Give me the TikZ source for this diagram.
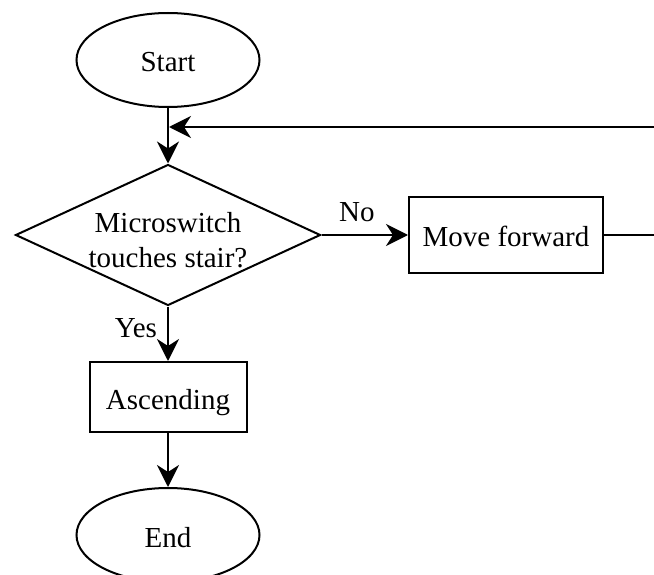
\documentclass[tikz,border=0pt]{standalone}
\usepackage{fontspec}
\setmainfont{Liberation Serif}
\usetikzlibrary{shapes.geometric,arrows.meta}

\begin{document}
\begin{tikzpicture}[
		x=1pt, y=-1pt,
		every node/.style={font=\fontsize{29}{35}\selectfont},
		terminal/.style={draw, ellipse, line width=2pt, minimum width=183pt, minimum height=94pt, inner sep=0pt, text height=26pt, text depth=2pt},
		decision/.style={draw, diamond, aspect=2.16, line width=2pt, minimum width=305pt, minimum height=141pt, inner sep=-10pt, align=center},
		process/.style={draw, rectangle, line width=2pt, inner sep=0pt, text height=26pt, text depth=2pt},
		flow/.style={line width=2pt, -{Stealth[length=22pt, width=22pt, inset=7pt]}},
		branch/.style={inner sep=2pt},
	]
	\useasboundingbox (0,0) rectangle (654,575);
	\node[terminal] (start) at (168,60) {Start};
	\node[decision] (check) at (168,235) {\rule{0pt}{30pt}Microswitch\\touches stair?};
	\node[process, minimum width=194pt, minimum height=76pt] (move) at (506,235) {Move forward};
	\node[process, minimum width=157pt, minimum height=70pt] (asc) at (168,397) {Ascending};
	\node[terminal] (end) at (168,535) {End};
	\coordinate (loopin) at (654,127);
	\coordinate (loopout) at (654,235);

	\draw[flow] (start.south) -- (check.north);
	\draw[flow, shorten >=1pt] (loopin) -- (loopin -| start.south);
	\draw[flow] (check.east) -- (move.west) node[branch, pos=0.41, anchor=south, yshift=10pt] {No};
	\draw[line width=2pt] (move.east) -- (loopout);
	\draw[flow] (check.south) -- (asc.north) node[branch, pos=0.4, anchor=east, xshift=-8pt] {Yes};
	\draw[flow] (asc.south) -- (end.north);
\end{tikzpicture}
\end{document}
